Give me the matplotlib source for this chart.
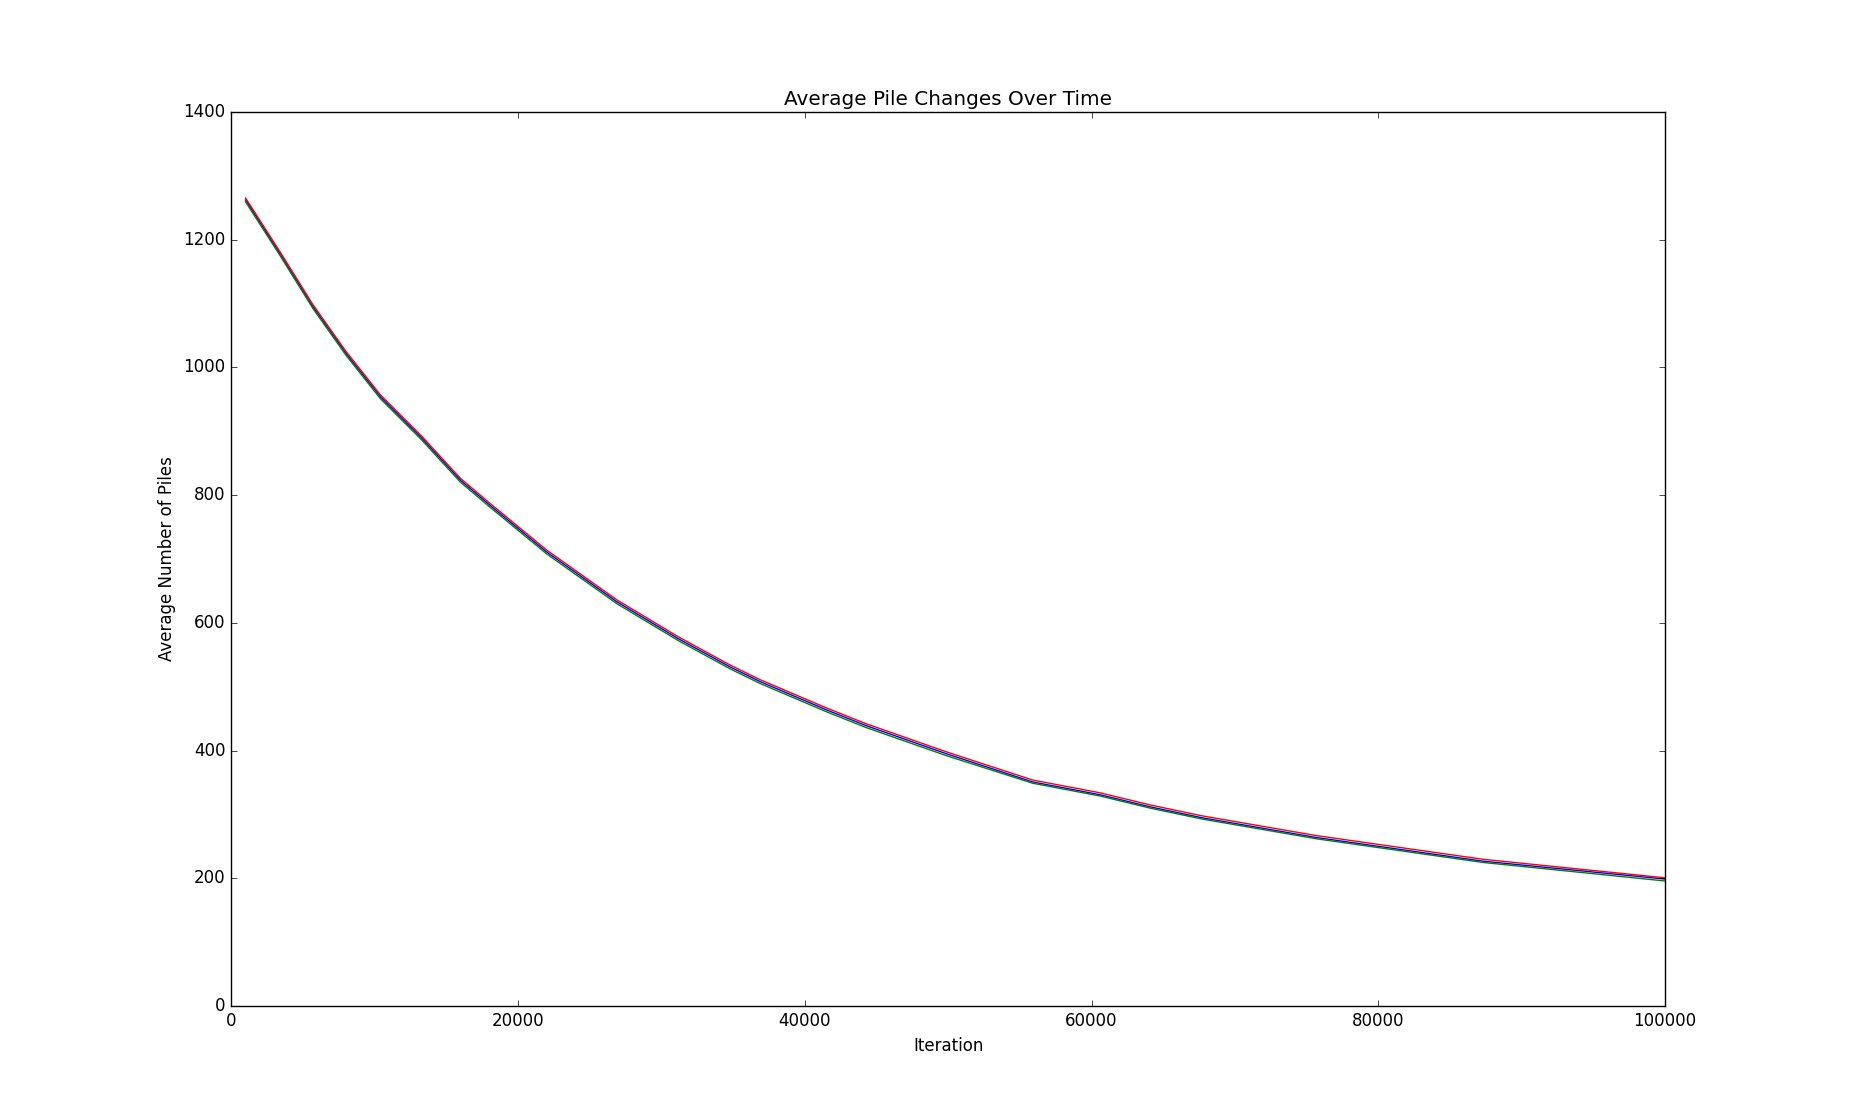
import matplotlib
matplotlib.use("Agg")
import matplotlib.pyplot as plt

# values (average number of piles per run)
iterations = [1000, 3400, 5700, 8000, 10400, 13300, 14600, 16000, 18000, 22000,
              26900, 31200, 34800, 36900, 41500, 44300, 49900, 55900, 60600,
              64100, 67700, 75700, 87300, 100000]
run_b = [1262, 1178, 1095, 1022, 954, 889, 857, 823, 785, 711,
         633, 575, 531, 508, 464, 439, 395, 351, 331,
         312, 295, 264, 227, 199]
run_g = [1259, 1175, 1092, 1019, 951, 886, 854, 820, 782, 708,
         630, 572, 528, 505, 461, 436, 392, 349, 329,
         310, 293, 262, 225, 196]
run_r = [1265, 1181, 1098, 1025, 957, 892, 860, 826, 788, 714,
         636, 578, 534, 511, 467, 442, 398, 354, 334,
         315, 298, 267, 230, 201]

plt.style.use("classic")
plt.rcParams["font.family"] = "DejaVu Sans"

fig = plt.figure(figsize=(18.5, 11.18), dpi=100, facecolor="white")
ax = fig.add_axes([0.125, 0.1, 0.775, 0.8])

ax.plot(iterations, run_b, color="b", lw=1.0)
ax.plot(iterations, run_g, color="g", lw=1.0)
ax.plot(iterations, run_r, color="r", lw=1.0)

ax.set_xlim(0, 100000)
ax.set_ylim(0, 1400)
ax.set_xticks(range(0, 100001, 20000))
ax.set_yticks(range(0, 1401, 200))
ax.tick_params(labelsize=12)

ax.set_title("Average Pile Changes Over Time", fontsize=14.4)
ax.set_xlabel("Iteration", fontsize=12)
ax.set_ylabel("Average Number of Piles", fontsize=12)

fig.savefig("out.png", dpi=100, facecolor="white")
